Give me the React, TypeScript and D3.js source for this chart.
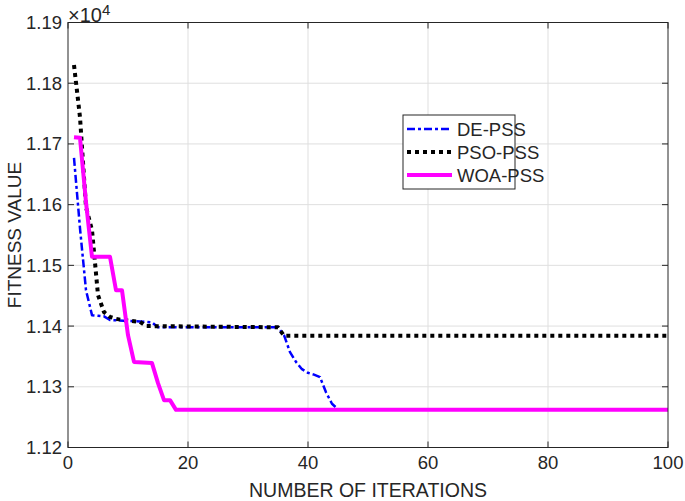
import React from 'react';
import * as d3 from 'd3';

// iteration / fitness vertices (fitness in raw units, axis shows x10^4)
const deIter = [1, 2, 3, 4, 5, 6, 7, 13, 14, 15, 35, 36, 37, 38, 39, 40, 41, 42, 43, 44, 45, 46, 100];
const deFit = [11677, 11561, 11459, 11418, 11417, 11416, 11410, 11407, 11406, 11398, 11398, 11385, 11357, 11341, 11329, 11323, 11320, 11316, 11291, 11272, 11263, 11262, 11262];

const psoIter = [1, 2, 3, 4, 5, 6, 7, 8, 9, 10, 11, 12, 13, 35, 36, 100];
const psoFit = [11830, 11744, 11596, 11558, 11451, 11423, 11415, 11412, 11410, 11409, 11408, 11407, 11400, 11398, 11384, 11384];

const woaIter = [1, 2, 3, 4, 7, 8, 9, 10, 11, 14, 15, 16, 17, 18, 100];
const woaFit = [11711, 11710, 11604, 11514, 11514, 11459, 11459, 11385, 11341, 11339, 11306, 11278, 11278, 11262, 11262];

const xTicks = [0, 20, 40, 60, 80, 100];
const yTicks = [11200, 11300, 11400, 11500, 11600, 11700, 11800, 11900];
const seriesNames = ['DE-PSS', 'PSO-PSS', 'WOA-PSS'];

const W = 685;
const H = 501;
const m = { left: 68, right: 668, top: 22.5, bottom: 447.5 };
const FONT = '"Liberation Sans", Arial, sans-serif';
const INK = '#262626';

const x = d3.scaleLinear().domain([0, 100]).range([m.left, m.right]);
const y = d3.scaleLinear().domain([11200, 11900]).range([m.bottom, m.top]);

const line = d3.line<[number, number]>()
  .x(d => x(d[0]))
  .y(d => y(d[1]));

const zip = (a: number[], b: number[]) => a.map((v, i) => [v, b[i]] as [number, number]);

const series = [
  { name: seriesNames[0], pts: zip(deIter, deFit), color: '#0000ff', width: 2.5, dash: '8,3,3,3', cap: 'butt' },
  { name: seriesNames[1], pts: zip(psoIter, psoFit), color: '#000000', width: 4, dash: '4,4', cap: 'butt' },
  { name: seriesNames[2], pts: zip(woaIter, woaFit), color: '#ff00ff', width: 4, dash: undefined, cap: 'butt' },
];

export default function App() {
  const tick = 6;
  const leg = { x: 403, y: 115, w: 112, h: 74 };
  return (
    <svg width={W} height={H} style={{ position: 'absolute', left: 0, top: 0, background: '#fff' }}>
      <rect x={0} y={0} width={W} height={H} fill="#fff" />
      {/* grid */}
      <g stroke="#dfdfdf" strokeWidth={1}>
        {xTicks.slice(1, -1).map(t => (
          <line key={'gx' + t} x1={x(t)} x2={x(t)} y1={m.top} y2={m.bottom} />
        ))}
        {yTicks.slice(1, -1).map(t => (
          <line key={'gy' + t} x1={m.left} x2={m.right} y1={y(t)} y2={y(t)} />
        ))}
      </g>

      {/* data */}
      <g fill="none">
        {series.map(s => (
          <path key={s.name} d={line(s.pts) || ''} stroke={s.color} strokeWidth={s.width}
            strokeDasharray={s.dash} strokeLinecap={s.cap as any} strokeLinejoin="round" />
        ))}
      </g>

      {/* axes box + ticks */}
      <g stroke={INK} strokeWidth={1} fill="none">
        <rect x={m.left} y={m.top} width={m.right - m.left} height={m.bottom - m.top} />
        {xTicks.map(t => (
          <g key={'tx' + t}>
            <line x1={x(t)} x2={x(t)} y1={m.bottom} y2={m.bottom - tick} />
            <line x1={x(t)} x2={x(t)} y1={m.top} y2={m.top + tick} />
          </g>
        ))}
        {yTicks.map(t => (
          <g key={'ty' + t}>
            <line x1={m.left} x2={m.left + tick} y1={y(t)} y2={y(t)} />
            <line x1={m.right} x2={m.right - tick} y1={y(t)} y2={y(t)} />
          </g>
        ))}
      </g>

      {/* tick labels */}
      <g fontFamily={FONT} fontSize={18.5} fill={INK}>
        {xTicks.map(t => (
          <text key={'lx' + t} x={x(t)} y={m.bottom + 21} textAnchor="middle">{t}</text>
        ))}
        {yTicks.map(t => (
          <text key={'ly' + t} x={m.left - 6} y={y(t) + 6.5} textAnchor="end">{d3.format('.2f')(t / 1e4)}</text>
        ))}
        <text x={m.left} y={22} fontSize={20}>×10<tspan dy={-7} fontSize={15}>4</tspan></text>
      </g>

      {/* axis titles */}
      <text x={(m.left + m.right) / 2} y={497} textAnchor="middle" fontFamily={FONT} fontSize={19.5} fill={INK}>
        NUMBER OF ITERATIONS
      </text>
      <text transform={`translate(21,${(m.top + m.bottom) / 2}) rotate(-90)`} textAnchor="middle"
        fontFamily={FONT} fontSize={19} fill={INK}>
        FITNESS VALUE
      </text>

      {/* legend */}
      <g>
        <rect x={leg.x} y={leg.y} width={leg.w} height={leg.h} fill="#fff" stroke={INK} strokeWidth={1} />
        {series.map((s, i) => {
          const cy = leg.y + 14 + i * 23;
          return (
            <g key={'lg' + s.name}>
              <line x1={leg.x + 4} x2={leg.x + 49} y1={cy} y2={cy} stroke={s.color} strokeWidth={s.width}
                strokeDasharray={s.dash} strokeLinecap={s.cap as any} />
              <text x={leg.x + 54} y={cy + 6.5} fontFamily={FONT} fontSize={18.5} fill={INK}>{s.name}</text>
            </g>
          );
        })}
      </g>
    </svg>
  );
}
